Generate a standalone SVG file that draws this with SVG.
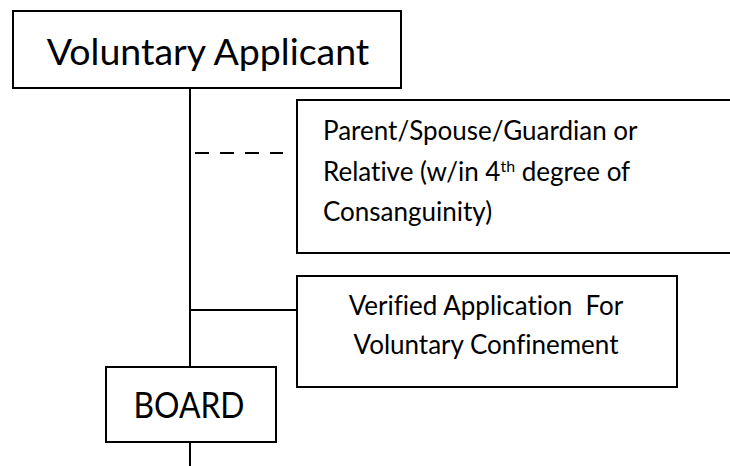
<svg xmlns="http://www.w3.org/2000/svg" width="730" height="466" viewBox="0 0 730 466">
<style>
.box{fill:#fff;stroke:#000;stroke-width:2}
.ln{stroke:#000;stroke-width:2;fill:none}
.t{font-family:Lato,"Liberation Sans",sans-serif;fill:#000;font-variant-ligatures:none}
.big{font-size:37.5px}
.med{font-size:26px}
</style>
<rect width="730" height="466" fill="#fff"/>
<g id="connectors">
<line class="ln" x1="190" y1="88" x2="190" y2="367"/>
<line class="ln" x1="190" y1="442" x2="190" y2="466"/>
<line class="ln" x1="190" y1="310" x2="297" y2="310"/>
<line class="ln" x1="195" y1="153" x2="283" y2="153" stroke-dasharray="14 11"/>
</g>
<g id="voluntary-applicant">
<rect class="box" x="13" y="11" width="388" height="77"/>
<text class="t big" x="208" y="65" text-anchor="middle">Voluntary Applicant</text>
</g>
<g id="parent">
<rect class="box" x="297" y="100" width="460" height="153"/>
<text class="t med" x="323" y="140">Parent/Spouse/Guardian or</text>
<text class="t med" x="323" y="181">Relative (w/in 4<tspan font-size="16" baseline-shift="9">th</tspan> degree of</text>
<text class="t med" x="323" y="221">Consanguinity)</text>
</g>
<g id="verified-application">
<rect class="box" x="297" y="276" width="380" height="111"/>
<text class="t med" x="486" y="315" text-anchor="middle" xml:space="preserve">Verified Application  For</text>
<text class="t med" x="486" y="354" text-anchor="middle">Voluntary Confinement</text>
</g>
<g id="board">
<rect class="box" x="106" y="367" width="170" height="75"/>
<text class="t big" x="189" y="418" text-anchor="middle" font-size="39" textLength="111" lengthAdjust="spacingAndGlyphs">BOARD</text>
</g>
</svg>
